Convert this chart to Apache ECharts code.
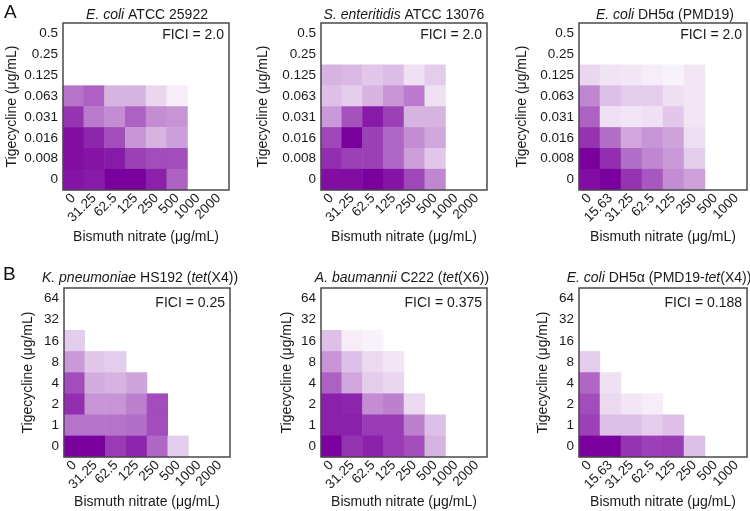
<!DOCTYPE html>
<html><head><meta charset="utf-8">
<script src="https://cdn.jsdelivr.net/npm/echarts@6/dist/echarts.min.js"></script>
<style>html,body{margin:0;padding:0;background:#fff}#c{width:750px;height:511px}</style>
</head><body><div id="c"></div>
<script>
// Categories
const bismuthA = ['0','31.25','62.5','125','250','500','1000','2000'];
const bismuthDH = ['0','15.63','31.25','62.5','125','250','500','1000'];
const tigeA = ['0','0.008','0.016','0.031','0.063','0.125','0.25','0.5']; // bottom -> top
const tigeB = ['0','1','2','4','8','16','32','64'];

// Relative growth (0 = none/white, 1 = max), rows listed top -> bottom
const ecoliATCC = [
  [null,null,null,null,null,null,null,null],
  [null,null,null,null,null,null,null,null],
  [null,null,null,null,null,null,null,null],
  [0.55,0.62,0.3,0.3,0.16,0.07,null,null],
  [0.8,0.52,0.45,0.62,0.45,0.42,null,null],
  [0.95,0.85,0.7,0.42,0.3,0.38,null,null],
  [0.95,0.92,0.9,0.75,0.7,0.7,null,null],
  [0.92,0.9,1.0,1.0,0.87,0.62,null,null]
];
const sEnteritidis = [
  [null,null,null,null,null,null,null,null],
  [null,null,null,null,null,null,null,null],
  [0.3,0.28,0.22,0.26,0.12,0.2,null,null],
  [0.25,0.2,0.3,0.42,0.52,0.12,null,null],
  [0.4,0.68,0.9,0.75,0.3,0.3,null,null],
  [0.72,1.0,0.75,0.6,0.45,0.35,null,null],
  [0.82,0.75,0.75,0.6,0.38,0.22,null,null],
  [0.95,0.95,1.0,0.92,0.72,0.47,null,null]
];
const ecoliPMD19 = [
  [null,null,null,null,null,null,null,null],
  [null,null,null,null,null,null,null,null],
  [0.16,0.11,0.1,0.07,0.05,0.1,null,null],
  [0.48,0.25,0.2,0.2,0.13,0.1,null,null],
  [0.62,0.12,0.1,0.12,0.22,0.1,null,null],
  [0.8,0.57,0.35,0.42,0.36,0.13,null,null],
  [1.0,0.82,0.57,0.47,0.4,0.2,null,null],
  [0.95,1.0,0.8,0.66,0.45,0.37,null,null]
];
const kPneumoniae = [
  [null,null,null,null,null,null,null,null],
  [null,null,null,null,null,null,null,null],
  [0.2,null,null,null,null,null,null,null],
  [0.4,0.22,0.2,null,null,null,null,null],
  [0.7,0.32,0.3,0.36,null,null,null,null],
  [0.82,0.42,0.42,0.5,0.7,null,null,null],
  [0.55,0.55,0.55,0.57,0.7,null,null,null],
  [1.0,1.0,0.77,0.85,0.6,0.2,null,null]
];
const aBaumannii = [
  [null,null,null,null,null,null,null,null],
  [null,null,null,null,null,null,null,null],
  [0.25,0.07,0.05,null,null,null,null,null],
  [0.42,0.25,0.15,0.1,null,null,null,null],
  [0.62,0.35,0.2,0.16,null,null,null,null],
  [0.87,0.85,0.45,0.5,0.15,null,null,null],
  [0.87,0.87,0.77,0.77,0.5,0.25,null,null],
  [1.0,0.8,0.87,0.77,0.7,0.3,null,null]
];
const ecoliTetX4 = [
  [null,null,null,null,null,null,null,null],
  [null,null,null,null,null,null,null,null],
  [null,null,null,null,null,null,null,null],
  [0.2,null,null,null,null,null,null,null],
  [0.6,0.12,null,null,null,null,null,null],
  [0.7,0.15,0.1,0.07,null,null,null,null],
  [0.75,0.25,0.25,0.2,0.25,null,null,null],
  [1.0,1.0,0.8,0.75,0.77,0.25,null,null]
];

const panelTitles = [
  '{i|E. coli} ATCC 25922',
  '{i|S. enteritidis} ATCC 13076',
  '{i|E. coli} DH5α (PMD19)',
  '{i|K. pneumoniae} HS192 ({i|tet}(X4))',
  '{i|A. baumannii} C222 ({i|tet}(X6))',
  '{i|E. coli} DH5α (PMD19-{i|tet}(X4))'
];
const ficiLabels = ['FICI = 2.0','FICI = 2.0','FICI = 2.0','FICI = 0.25','FICI = 0.375','FICI = 0.188'];

const matrices = [ecoliATCC, sEnteritidis, ecoliPMD19, kPneumoniae, aBaumannii, ecoliTetX4];
const xCats = [bismuthA, bismuthA, bismuthDH, bismuthA, bismuthA, bismuthDH];
const yCats = [tigeA, tigeA, tigeA, tigeB, tigeB, tigeB];

const FONT = 'Arial, "Liberation Sans", sans-serif';
const grids = [
  {left:63, top:23, width:166, height:167},
  {left:321, top:23, width:166, height:167},
  {left:579, top:23, width:168, height:167},
  {left:64, top:288, width:166, height:169},
  {left:321, top:288, width:166, height:169},
  {left:579, top:288, width:168, height:169}
];
const yNameGaps = [44, 51, 50, 29, 27, 29];
const titleX = [147, 404, 665, 140, 402, 659];
const titleY = [15, 15, 15, 278, 278, 278];

function toData(m){
  const out = [];
  const n = m.length;
  m.forEach((row, r) => row.forEach((v, c) => {
    if (v !== null) out.push([c, n - 1 - r, v]);
  }));
  return out;
}

const option = {
  animation: false,
  backgroundColor: '#fff',
  textStyle: {fontFamily: FONT},
  grid: grids.map(g => Object.assign({show:true, borderColor:'#4a4a4a', borderWidth:1.5, backgroundColor:'rgba(0,0,0,0)', z:5}, g)),
  xAxis: xCats.map((cats, i) => ({
    type:'category', gridIndex:i, data:cats,
    axisLine:{show:false}, axisTick:{show:false}, splitLine:{show:false},
    axisLabel:{rotate:45, interval:0, fontSize:13.5, color:'#1a1a1a', margin:6, fontFamily:FONT},
    name:'Bismuth nitrate (μg/mL)', nameLocation:'middle', nameGap: i < 3 ? 40 : 38,
    nameTextStyle:{fontSize:14, color:'#1a1a1a', fontFamily:FONT}
  })),
  yAxis: yCats.map((cats, i) => ({
    type:'category', gridIndex:i, data:cats,
    axisLine:{show:false}, axisTick:{show:false}, splitLine:{show:false},
    axisLabel:{interval:0, fontSize:13.5, color:'#1a1a1a', margin:5, fontFamily:FONT},
    name:'Tigecycline (μg/mL)', nameLocation:'middle', nameGap:yNameGaps[i], nameRotate:90,
    nameTextStyle:{fontSize:14, color:'#1a1a1a', fontFamily:FONT}
  })),
  visualMap: {
    type:'continuous', show:false, min:0, max:1, seriesIndex:[0,1,2,3,4,5],
    inRange:{color:['#ffffff', '#7a009e']}
  },
  series: matrices.map((m, i) => ({
    type:'heatmap', xAxisIndex:i, yAxisIndex:i, data:toData(m),
    itemStyle:{borderWidth:0}, emphasis:{disabled:true}
  })),
  graphic: [
    {type:'text', left:4, top:3, style:{text:'A', fontSize:19, fontFamily:FONT, fill:'#111'}},
    {type:'text', left:3, top:265, style:{text:'B', fontSize:19, fontFamily:FONT, fill:'#111'}}
  ].concat(panelTitles.map((t, i) => ({
    type:'text', x:titleX[i], y:titleY[i], z:10,
    style:{text:t, fontSize:14, fontFamily:FONT, fill:'#1a1a1a', align:'center', verticalAlign:'middle',
      rich:{i:{fontStyle:'italic', fontSize:14, fontFamily:FONT, fill:'#1a1a1a'}}}
  }))).concat(ficiLabels.map((t, i) => ({
    type:'text', z:10,
    x: grids[i].left + grids[i].width - 5,
    y: grids[i].top + (i < 3 ? 12 : 15),
    style:{text:t, fontSize:14, fontFamily:FONT, fill:'#1a1a1a', align:'right', verticalAlign:'middle'}
  })))
};

const chart = echarts.init(document.getElementById('c'), null, {renderer:'canvas'});
chart.setOption(option);
</script>
</body></html>
